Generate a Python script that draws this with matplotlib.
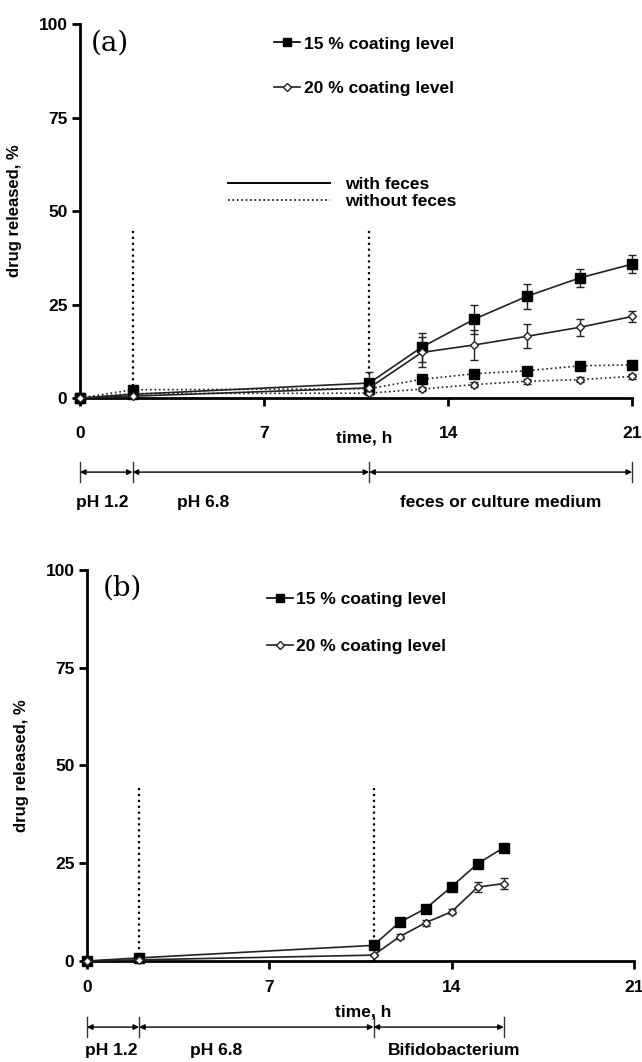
import numpy as np
import matplotlib.pyplot as plt
from matplotlib.lines import Line2D

plt.rcParams['font.family'] = ['Liberation Sans', 'DejaVu Sans']
plt.rcParams['font.weight'] = 'bold'

# panel (a): release in pH 1.2 / pH 6.8 / feces
t_a = [0, 2, 11, 13, 15, 17, 19, 21]
a15_feces = [0, 1.0, 4.0, 13.6, 21.1, 27.2, 32.1, 35.8]
a15_feces_err = [0, 0.4, 3.0, 3.9, 3.9, 3.3, 2.4, 2.5]
a20_feces = [0, 0.5, 2.7, 12.2, 14.2, 16.5, 18.9, 21.8]
a20_feces_err = [0, 0.3, 1.5, 4.0, 4.0, 3.2, 2.3, 1.5]
a15_nofeces = [0, 2.2, 2.5, 5.0, 6.5, 7.3, 8.6, 8.9]
a15_nofeces_err = [0, 0.3, 0.4, 0.5, 0.6, 0.6, 0.6, 0.5]
a20_nofeces = [0, 1.2, 1.3, 2.4, 3.6, 4.5, 4.9, 5.8]
a20_nofeces_err = [0, 0.3, 0.4, 0.5, 0.6, 0.7, 0.6, 0.6]

# panel (b): release with Bifidobacterium
t_b = [0, 2, 11, 12, 13, 14, 15, 16]
b15 = [0, 0.8, 4.0, 9.9, 13.4, 19.0, 24.9, 29.0]
b15_err = [0, 0.3, 0.3, 0.4, 0.4, 0.4, 0.4, 0.4]
b20 = [0, 0.3, 1.5, 6.2, 9.8, 12.6, 18.9, 19.8]
b20_err = [0, 0.2, 0.3, 0.7, 0.8, 0.6, 1.2, 1.3]

series_labels = ['15 % coating level', '20 % coating level']
xticks = [0, 7, 14, 21]
yticks = [0, 25, 50, 75, 100]
phase_edges_a = [0, 2, 11, 21]
phase_labels_a = ['pH 1.2', 'pH 6.8', 'feces or culture medium']
phase_edges_b = [0, 2, 11, 16]
phase_labels_b = ['pH 1.2', 'pH 6.8', 'Bifidobacterium']

FS = 12.5
sq = dict(marker='s', ms=7.5, mfc='black', mec='black')
dm = dict(marker='D', ms=4.5, mfc='white', mec='#222222', mew=1.0)


def series(ax, t, y, err, ls, mk):
    ax.errorbar(t, y, yerr=err, color='#222222', lw=1.2, ls=ls,
                capsize=3, elinewidth=1.0, capthick=1.0, clip_on=False,
                zorder=3, **mk)


def style_axes(ax, label_pad):
    for s in ['top', 'right']:
        ax.spines[s].set_visible(False)
    for s in ['left', 'bottom']:
        ax.spines[s].set_linewidth(2)
    ax.set_xlim(0, 21)
    ax.set_ylim(0, 100)
    ax.set_xticks(xticks)
    ax.set_yticks(yticks)
    ax.tick_params(axis='x', direction='out', length=6, width=2, pad=label_pad, labelsize=FS)
    ax.tick_params(axis='y', direction='out', length=6, width=2, pad=3, labelsize=FS)
    ax.set_ylabel('drug released, %', fontsize=12, fontweight='bold', labelpad=12)
    ax.vlines([2, 11], 0, 45, colors='black', linestyles=':', lw=1.6, zorder=1)


def phases(ax, edges, labels, label_x, y_arrow, y_text, bar_h):
    trans = ax.get_xaxis_transform()
    for x0, x1 in zip(edges[:-1], edges[1:]):
        ax.annotate('', xy=(x1, y_arrow), xytext=(x0, y_arrow), xycoords=trans,
                    textcoords=trans,
                    arrowprops=dict(arrowstyle='<|-|>', color='black', lw=1.0,
                                    mutation_scale=8, shrinkA=0, shrinkB=0),
                    annotation_clip=False)
    for e in edges:
        ax.plot([e, e], [y_arrow - bar_h, y_arrow + bar_h], color='#333333', lw=1.0,
                transform=trans, clip_on=False)
    for lab, x in zip(labels, label_x):
        ax.text(x, y_text, lab, transform=trans, ha='center', va='center',
                fontsize=FS, fontweight='bold')


fig = plt.figure(figsize=(6.42, 10.62), dpi=100)
ax1 = fig.add_axes([0.1246, 0.6252, 0.86, 0.3522])
ax2 = fig.add_axes([0.1355, 0.0951, 0.852, 0.3682])

# ---- panel (a)
series(ax1, t_a, a15_nofeces, a15_nofeces_err, ':', sq)
series(ax1, t_a, a20_nofeces, a20_nofeces_err, ':', dm)
series(ax1, t_a, a15_feces, a15_feces_err, '-', sq)
series(ax1, t_a, a20_feces, a20_feces_err, '-', dm)
style_axes(ax1, 14)
ax1.text(0.4, 95, '(a)', family='DejaVu Serif', fontweight='normal', fontsize=20, va='center')
ax1.text(10.8, -0.107, 'time, h', transform=ax1.get_xaxis_transform(), ha='center',
         va='center', fontsize=FS, fontweight='bold')

h15 = Line2D([], [], color='black', lw=1.2, **sq)
h20 = Line2D([], [], color='#222222', lw=1.2, **dm)
h15.set_markersize(6)
leg = ax1.legend([h15, h20], series_labels, loc='upper left', bbox_to_anchor=(0.336, 0.99),
                 frameon=False, handlelength=1.5, handletextpad=0.2, labelspacing=1.7,
                 borderpad=0, prop=dict(size=FS, weight='bold'))
ax1.add_artist(leg)
ax1.legend([Line2D([], [], color='black', lw=1.4, ls='-'),
            Line2D([], [], color='black', lw=1.2, ls=':')],
           ['with feces', 'without feces'], loc='upper left', bbox_to_anchor=(0.252, 0.615),
           frameon=False, handlelength=5.9, handletextpad=0.85, labelspacing=0.1,
           borderpad=0, prop=dict(size=FS, weight='bold'))

phases(ax1, phase_edges_a, phase_labels_a, [0.84, 4.7, 16.0], -0.198, -0.278, 0.026)

# ---- panel (b)
series(ax2, t_b, b15, b15_err, '-', sq)
series(ax2, t_b, b20, b20_err, '-', dm)
style_axes(ax2, 8)
ax2.text(0.6, 95.4, '(b)', family='DejaVu Serif', fontweight='normal', fontsize=20, va='center')
ax2.text(10.6, -0.13, 'time, h', transform=ax2.get_xaxis_transform(), ha='center',
         va='center', fontsize=FS, fontweight='bold')
ax2.legend([h15, h20], series_labels, loc='upper left', bbox_to_anchor=(0.313, 0.965),
           frameon=False, handlelength=1.5, handletextpad=0.2, labelspacing=1.8,
           borderpad=0, prop=dict(size=FS, weight='bold'))

phases(ax2, phase_edges_b, phase_labels_b, [0.92, 4.95, 14.1], -0.169, -0.228, 0.026)

fig.savefig('out.png', dpi=100)
